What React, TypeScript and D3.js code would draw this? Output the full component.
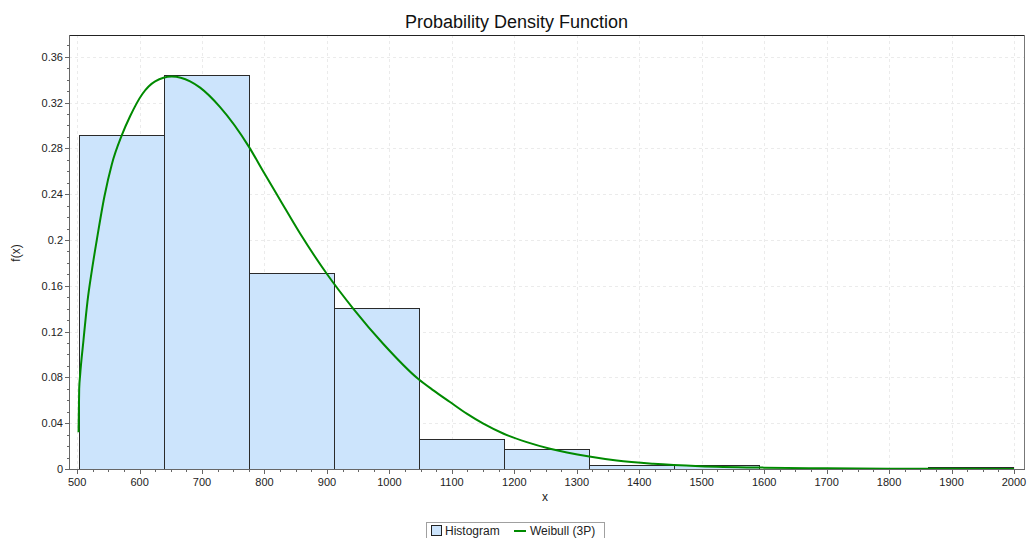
import React from 'react';
import * as d3 from 'd3';

// ---- data ----
const binEdges = [503, 639, 775, 911, 1047, 1183, 1319, 1455, 1591, 1727, 1863, 1999];
const binHeights = [0.2914, 0.3441, 0.1709, 0.1403, 0.0259, 0.0172, 0.0038, 0.0038, 0.0002, 0.0009, 0.0015];

const curveX = [502.3, 503.3, 504.8, 510.1, 516.5, 523.5, 531.5, 543.7, 555.5, 571.6, 584.8, 604.5, 624.9, 651.6, 680.9, 696.9, 728.9, 774.9, 798.3, 825, 857, 899.7, 942.3, 990.3, 1046.3, 1070.4, 1097, 1123.8, 1150.4, 1183, 1219.9, 1257.2, 1320, 1363.9, 1422.5, 1497.3, 1600, 1700, 1800, 1900, 2000];
const curveY = [0.032, 0.070, 0.082, 0.1120, 0.1460, 0.1730, 0.2000, 0.2380, 0.2660, 0.2915, 0.3080, 0.3275, 0.3385, 0.3427, 0.3385, 0.3330, 0.3160, 0.2815, 0.2595, 0.2349, 0.2056, 0.1705, 0.1399, 0.1092, 0.0786, 0.0687, 0.0585, 0.0483, 0.0396, 0.0308, 0.0235, 0.0177, 0.0109, 0.0074, 0.0046, 0.0025, 0.0012, 0.0006, 0.0003, 0.00015, 0.0001];

const xTickValues = [500, 600, 700, 800, 900, 1000, 1100, 1200, 1300, 1400, 1500, 1600, 1700, 1800, 1900, 2000];
const yTickValues = [0, 0.04, 0.08, 0.12, 0.16, 0.2, 0.24, 0.28, 0.32, 0.36];
const yTickLabels = ['0', '0.04', '0.08', '0.12', '0.16', '0.2', '0.24', '0.28', '0.32', '0.36'];

const titleText = 'Probability Density Function';
const xLabel = 'x';
const yLabel = 'f(x)';
const legendHist = 'Histogram';
const legendCurve = 'Weibull (3P)';

const W = 1027;
const H = 538;
const L = 69, R = 1024, T = 35, B = 469;
const FONT = 'Arial, "Liberation Sans", sans-serif';

export default function App() {
  const x = d3.scaleLinear().domain([487, 2016]).range([L, R]);
  const y = d3.scaleLinear().domain([0, 0.379]).range([B, T]);

  const bars = binHeights.map((h, i) => ({ x0: binEdges[i], x1: binEdges[i + 1], h }));
  const pts: [number, number][] = curveX.map((v, i) => [v, curveY[i]]);
  const line = d3.line<[number, number]>()
    .x(d => x(d[0]))
    .y(d => y(d[1]))
    .curve(d3.curveMonotoneX);

  const xMinor: number[] = [];
  for (let v = 500; v <= 2000; v += 25) if (v % 100 !== 0) xMinor.push(v);
  const yMinor: number[] = [];
  for (let k = 1; k <= 37; k++) if (k % 4 !== 0) yMinor.push(k / 100);

  return (
    <svg width={W} height={H} style={{ position: 'absolute', left: 0, top: 0, background: '#fff' }}
      fontFamily={FONT}>
      <defs>
        <clipPath id="plotclip">
          <rect x={L} y={T} width={R - L} height={B - T} />
        </clipPath>
      </defs>
      <rect x={0} y={0} width={W} height={H} fill="#fff" />
      <text x={516.5} y={28} textAnchor="middle" fontSize={18} fill="#111">{titleText}</text>

      {/* grid */}
      <g stroke="#ebebeb" strokeWidth={1} strokeDasharray="3,3">
        {xTickValues.map(v => (
          <line key={'gx' + v} x1={Math.round(x(v)) + 0.5} x2={Math.round(x(v)) + 0.5} y1={T} y2={B} />
        ))}
        {yTickValues.filter(v => v > 0).map(v => (
          <line key={'gy' + v} x1={L} x2={R} y1={Math.round(y(v)) + 0.5} y2={Math.round(y(v)) + 0.5} />
        ))}
      </g>

      {/* histogram */}
      <g>
        {bars.map((b, i) => (
          <rect key={'b' + i}
            x={Math.round(x(b.x0)) + 0.5}
            y={Math.round(y(b.h)) + 0.5}
            width={Math.round(x(b.x1)) - Math.round(x(b.x0))}
            height={Math.max(0, Math.round(y(0)) - Math.round(y(b.h)))}
            fill="#cce4fc" stroke="#2a2a2a" strokeWidth={1} />
        ))}
      </g>

      {/* curve */}
      <path d={line(pts) || ''} fill="none" stroke="#008a00" strokeWidth={2} clipPath="url(#plotclip)" />

      {/* frame */}
      <line x1={L} x2={R + 0.5} y1={T + 0.5} y2={T + 0.5} stroke="#222" strokeWidth={1} />
      <line x1={R + 0.5} x2={R + 0.5} y1={T} y2={B} stroke="#777" strokeWidth={1} />
      <line x1={L + 0.5} x2={L + 0.5} y1={T} y2={B + 0.5} stroke="#666" strokeWidth={1} />
      <line x1={L} x2={R + 1} y1={B + 0.5} y2={B + 0.5} stroke="#666" strokeWidth={1} />

      {/* axis ticks */}
      <g stroke="#666" strokeWidth={1}>
        {yTickValues.map(v => (
          <line key={'yt' + v} x1={L - 4} x2={L} y1={Math.round(y(v)) + 0.5} y2={Math.round(y(v)) + 0.5} />
        ))}
        {yMinor.map(v => (
          <line key={'ym' + v} x1={L - 2} x2={L} y1={Math.round(y(v)) + 0.5} y2={Math.round(y(v)) + 0.5} />
        ))}
        {xTickValues.map(v => (
          <line key={'xt' + v} x1={Math.round(x(v)) + 0.5} x2={Math.round(x(v)) + 0.5} y1={B} y2={B + 5} />
        ))}
        {xMinor.map(v => (
          <line key={'xm' + v} x1={Math.round(x(v)) + 0.5} x2={Math.round(x(v)) + 0.5} y1={B} y2={B + 3} />
        ))}
      </g>
      <g fontSize={11} fill="#222">
        {yTickValues.map((v, i) => (
          <text key={'yl' + v} x={L - 6} y={y(v) + 4} textAnchor="end">{yTickLabels[i]}</text>
        ))}
        {xTickValues.map(v => (
          <text key={'xl' + v} x={x(v)} y={486} textAnchor="middle">{v}</text>
        ))}
      </g>

      <text x={545} y={501} textAnchor="middle" fontSize={12} fill="#222">{xLabel}</text>
      <text transform="translate(20,253) rotate(-90)" textAnchor="middle" fontSize={12} fill="#222">{yLabel}</text>

      {/* legend */}
      <rect x={426.5} y={522.5} width={178} height={20} fill="#fff" stroke="#a0a0a0" strokeWidth={1} />
      <rect x={431.5} y={525.5} width={10} height={10} fill="#cce4fc" stroke="#222" strokeWidth={1} />
      <text x={445} y={535} fontSize={12} fill="#222">{legendHist}</text>
      <line x1={514} x2={526} y1={531} y2={531} stroke="#008a00" strokeWidth={2} />
      <text x={530} y={535} fontSize={12} fill="#222">{legendCurve}</text>
    </svg>
  );
}
